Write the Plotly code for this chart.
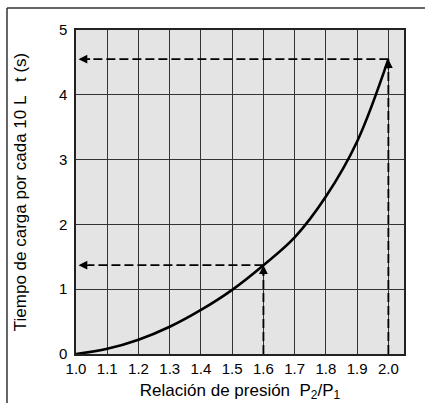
import plotly.graph_objects as go

# Pressure ratio P2/P1 and charging time per 10 L (s)
ratio = [1.0, 1.1, 1.2, 1.3, 1.4, 1.5, 1.6, 1.7, 1.8, 1.9, 2.0]
time_s = [0.0, 0.08, 0.22, 0.42, 0.68, 0.99, 1.37, 1.8, 2.43, 3.28, 4.55]

# Example read-offs marked with dashed guides
guide_ratio = [1.6, 2.0]
guide_time = [1.37, 4.55]

x_ticks = [1.0, 1.1, 1.2, 1.3, 1.4, 1.5, 1.6, 1.7, 1.8, 1.9, 2.0]
x_tick_text = ["1.0", "1.1", "1.2", "1.3", "1.4", "1.5", "1.6", "1.7", "1.8", "1.9", "2.0"]
y_ticks = [0, 1, 2, 3, 4, 5]

FONT = "Liberation Sans, Arial, sans-serif"
DASH = "9px,4px"

fig = go.Figure()

# Dashed guide lines: up from the axis to the curve, then left to the time axis
for gx, gy in zip(guide_ratio, guide_time):
    fig.add_trace(go.Scatter(
        x=[gx, gx], y=[0, gy - 0.1], mode="lines",
        line=dict(color="black", width=1.8, dash=DASH),
        hoverinfo="skip", showlegend=False))
    fig.add_trace(go.Scatter(
        x=[gx, x_ticks[0] + 0.04], y=[gy, gy], mode="lines",
        line=dict(color="black", width=1.8, dash=DASH),
        hoverinfo="skip", showlegend=False))
    # upward arrowhead at the curve
    fig.add_annotation(x=gx, y=gy, ax=gx, ay=gy - 0.18, xref="x", yref="y",
                       axref="x", ayref="y", text="", showarrow=True,
                       arrowhead=2, arrowsize=1.1, arrowwidth=1.6,
                       arrowcolor="black", standoff=0)
    # leftward arrowhead at the time axis
    fig.add_annotation(x=x_ticks[0] + 0.008, y=gy, ax=x_ticks[0] + 0.05, ay=gy,
                       xref="x", yref="y", axref="x", ayref="y", text="",
                       showarrow=True, arrowhead=2, arrowsize=1.1,
                       arrowwidth=1.6, arrowcolor="black", standoff=0)

# Characteristic curve
fig.add_trace(go.Scatter(
    x=ratio, y=time_s, mode="lines",
    line=dict(color="black", width=2.6, shape="spline", smoothing=1.0),
    showlegend=False))

axis_common = dict(
    showline=True, linecolor="#222", linewidth=1.5, mirror=True,
    showgrid=True, gridcolor="#333", gridwidth=1.4,
    zeroline=False, ticks="", color="black", automargin=False,
    tickfont=dict(family=FONT, size=15, color="black"),
)

fig.update_xaxes(
    range=[1.0, 2.05], tickvals=x_ticks, ticktext=x_tick_text,
    title=dict(text="Relación de presión  P<sub>2</sub>/P<sub>1</sub>",
               font=dict(family=FONT, size=17, color="black"), standoff=8),
    **axis_common)
fig.update_yaxes(
    range=[0, 5], tickvals=y_ticks, ticklabelstandoff=4,
    title=dict(text="Tiempo de carga por cada 10 L   t (s)",
               font=dict(family=FONT, size=17, color="black"), standoff=28),
    **axis_common)

# Surrounding frame (top and left edges) and the clipped heading above it
fig.add_shape(type="line", xref="paper", yref="paper",
              x0=-69 / 324 * 324 / 328, x1=349 / 328, y0=1 + 22 / 324, y1=1 + 22 / 324,
              line=dict(color="#333", width=1.5))
fig.add_shape(type="line", xref="paper", yref="paper",
              x0=-69 / 328, x1=-69 / 328, y0=1 + 22 / 324, y1=-60 / 324,
              line=dict(color="#333", width=1.5))
fig.add_annotation(xref="paper", yref="paper", x=(185 - 76) / 328,
                   y=1 + 28 / 324, yanchor="bottom", text="<b>g</b>",
                   showarrow=False,
                   font=dict(family=FONT, size=22, color="black"))

fig.update_layout(
    width=425, height=403,
    margin=dict(l=76, r=21, t=30, b=49),
    plot_bgcolor="#e4e4e4", paper_bgcolor="white",
    font=dict(family=FONT, color="black"),
)

fig.write_html("out.html")
